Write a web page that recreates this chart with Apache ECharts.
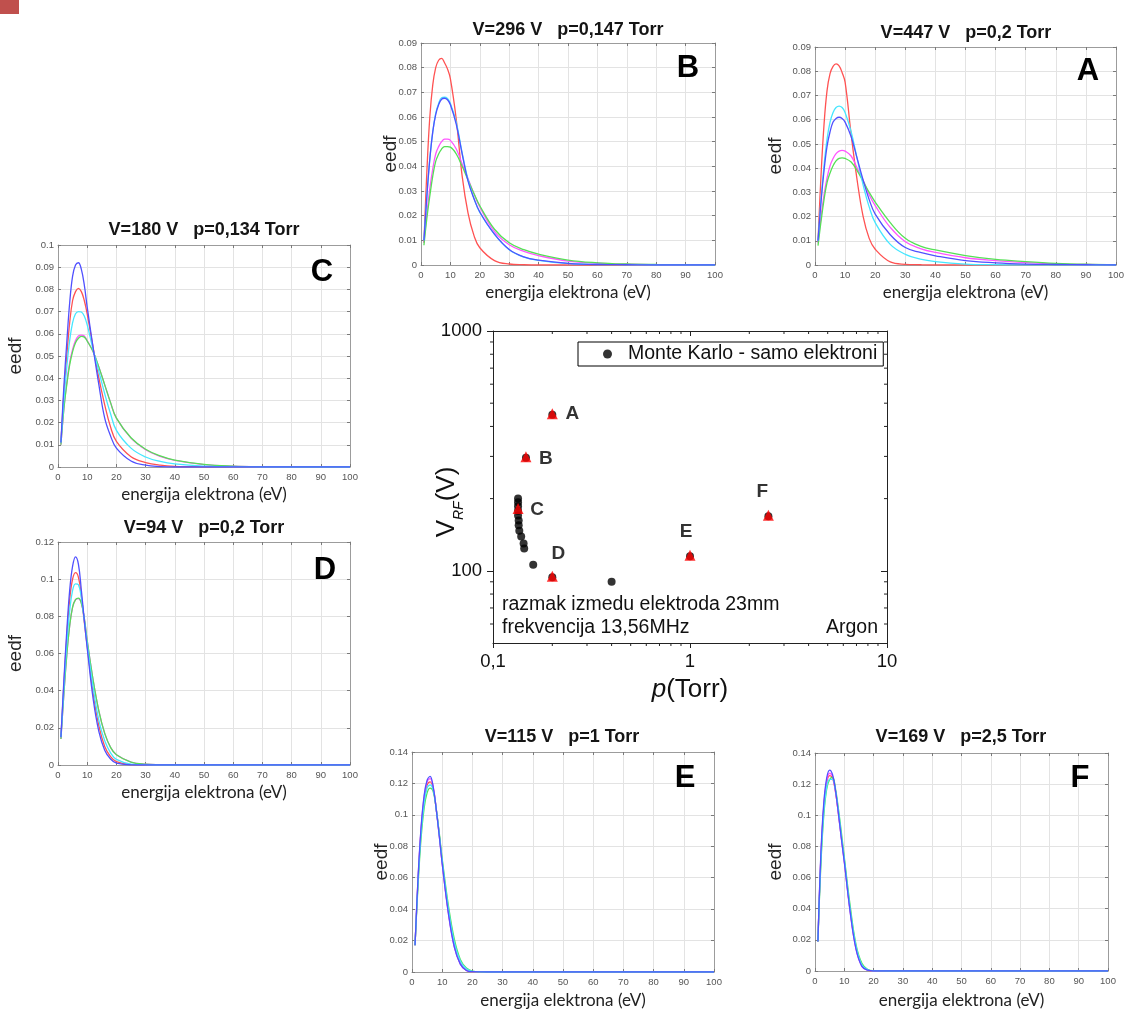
<!DOCTYPE html>
<html><head><meta charset="utf-8">
<script src="https://cdn.jsdelivr.net/npm/echarts@6/dist/echarts.min.js"></script>
<style>html,body{margin:0;padding:0;background:#fff}#c{width:1135px;height:1010px}</style>
</head><body><div id="c"></div>
<script>
// ---------- DATA ----------
const energy = [1,2,3,4,5,6,7,8,9,10,12,14,16,18,20,25,30,35,40,50,60,70,80,90,100];
const eTicks = [0,10,20,30,40,50,60,70,80,90,100];

// Panel B  V=296 V p=0,147 Torr
const B_red     = [0.009,0.038,0.060,0.073,0.080,0.083,0.0838,0.082,0.0795,0.0755,0.059,0.036,0.021,0.012,0.007,0.0018,0.0004,0.0001,0,0,0,0,0,0,0];
const B_blue    = [0.010,0.028,0.043,0.054,0.061,0.065,0.0672,0.0676,0.067,0.065,0.057,0.045,0.034,0.027,0.0215,0.0125,0.0063,0.0033,0.002,0.0007,0.0002,0.0001,0,0,0];
const B_cyan    = [0.010,0.028,0.043,0.054,0.0615,0.0655,0.0678,0.068,0.0675,0.0655,0.0578,0.0455,0.0345,0.027,0.0213,0.0124,0.0062,0.0032,0.0019,0.0006,0.0002,0.0001,0,0,0];
const B_magenta = [0.009,0.021,0.031,0.039,0.045,0.048,0.050,0.051,0.051,0.0505,0.047,0.041,0.035,0.029,0.0235,0.0135,0.0082,0.0055,0.0038,0.0016,0.0007,0.0003,0.0001,0,0];
const B_green   = [0.008,0.019,0.028,0.036,0.042,0.045,0.047,0.048,0.048,0.0478,0.045,0.040,0.0345,0.029,0.024,0.0145,0.009,0.0062,0.0044,0.002,0.0009,0.0004,0.0002,0.0001,0];

// Panel A  V=447 V p=0,2 Torr
const A_red     = [0.010,0.037,0.058,0.072,0.079,0.082,0.083,0.0822,0.0795,0.0755,0.054,0.035,0.020,0.011,0.0065,0.0013,0.0003,0.0001,0,0,0,0,0,0,0];
const A_blue    = [0.010,0.026,0.039,0.049,0.055,0.059,0.0605,0.061,0.0605,0.059,0.053,0.044,0.035,0.027,0.021,0.0125,0.0072,0.0052,0.0038,0.0018,0.0009,0.0004,0.0002,0.0001,0];
const A_cyan    = [0.010,0.027,0.041,0.052,0.059,0.063,0.065,0.0656,0.065,0.063,0.055,0.044,0.033,0.024,0.0175,0.0085,0.0044,0.0024,0.0014,0.0004,0.0001,0,0,0,0];
const A_magenta = [0.009,0.020,0.029,0.036,0.041,0.044,0.046,0.047,0.0473,0.047,0.045,0.040,0.035,0.029,0.0245,0.0155,0.0096,0.0068,0.0052,0.003,0.0018,0.001,0.0005,0.0002,0.0001];
const A_green   = [0.008,0.018,0.027,0.034,0.038,0.041,0.043,0.044,0.0442,0.044,0.0425,0.039,0.0345,0.030,0.026,0.0175,0.011,0.0078,0.0062,0.0039,0.0023,0.0014,0.0007,0.0003,0.0001];

// Panel C  V=180 V p=0,134 Torr
const C_red     = [0.011,0.033,0.050,0.065,0.075,0.079,0.0805,0.079,0.075,0.069,0.054,0.040,0.028,0.018,0.0115,0.0046,0.002,0.0008,0.0003,0.0001,0,0,0,0,0];
const C_blue    = [0.011,0.036,0.056,0.074,0.086,0.091,0.092,0.089,0.082,0.072,0.054,0.037,0.022,0.014,0.0085,0.0027,0.0008,0.0002,0,0,0,0,0,0,0];
const C_cyan    = [0.011,0.030,0.045,0.057,0.065,0.069,0.070,0.0698,0.068,0.064,0.053,0.043,0.033,0.024,0.0165,0.0085,0.0045,0.0025,0.0014,0.0004,0.0001,0,0,0,0];
const C_magenta = [0.010,0.026,0.038,0.047,0.053,0.057,0.059,0.0594,0.059,0.057,0.052,0.045,0.037,0.029,0.022,0.013,0.0078,0.0048,0.003,0.0011,0.0004,0.0001,0,0,0];
const C_green   = [0.010,0.026,0.037,0.046,0.052,0.056,0.058,0.0588,0.0585,0.0567,0.052,0.045,0.037,0.029,0.022,0.0132,0.008,0.005,0.0031,0.0012,0.0004,0.0001,0,0,0];

// Panel D  V=94 V p=0,2 Torr
const D_red     = [0.015,0.043,0.069,0.089,0.100,0.1035,0.101,0.091,0.077,0.064,0.039,0.021,0.010,0.0045,0.0018,0.0002,0,0,0,0,0,0,0,0,0];
const D_blue    = [0.015,0.045,0.072,0.094,0.107,0.112,0.108,0.094,0.078,0.063,0.036,0.018,0.008,0.0032,0.001,0.0001,0,0,0,0,0,0,0,0,0];
const D_cyan    = [0.015,0.041,0.065,0.083,0.094,0.0975,0.097,0.090,0.078,0.065,0.042,0.024,0.013,0.0065,0.003,0.0005,0.0001,0,0,0,0,0,0,0,0];
const D_magenta = [0.014,0.038,0.059,0.075,0.085,0.089,0.0895,0.087,0.079,0.067,0.046,0.029,0.017,0.0095,0.0055,0.0016,0.0004,0.0001,0,0,0,0,0,0,0];
const D_green   = [0.014,0.038,0.059,0.075,0.085,0.089,0.0898,0.087,0.079,0.067,0.046,0.029,0.017,0.0095,0.0055,0.0016,0.0004,0.0001,0,0,0,0,0,0,0];

// Panel E  V=115 V p=1 Torr
const E_red     = [0.017,0.058,0.090,0.109,0.119,0.121,0.117,0.104,0.088,0.070,0.039,0.017,0.0055,0.0012,0.0002,0,0,0,0,0,0,0,0,0,0];
const E_blue    = [0.017,0.060,0.092,0.112,0.122,0.1245,0.118,0.104,0.087,0.069,0.038,0.016,0.005,0.001,0.0002,0,0,0,0,0,0,0,0,0,0];
const E_cyan    = [0.017,0.057,0.088,0.107,0.117,0.119,0.116,0.104,0.088,0.071,0.041,0.019,0.007,0.002,0.0004,0,0,0,0,0,0,0,0,0,0];
const E_magenta = [0.017,0.059,0.091,0.111,0.121,0.123,0.118,0.104,0.087,0.069,0.038,0.016,0.005,0.001,0.0002,0,0,0,0,0,0,0,0,0,0];
const E_green   = [0.017,0.055,0.085,0.104,0.114,0.117,0.115,0.104,0.089,0.072,0.043,0.021,0.008,0.0025,0.0006,0,0,0,0,0,0,0,0,0,0];

// Panel F  V=169 V p=2,5 Torr
const F_red     = [0.019,0.072,0.105,0.121,0.1255,0.124,0.115,0.101,0.086,0.071,0.039,0.015,0.0035,0.0006,0,0,0,0,0,0,0,0,0,0,0];
const F_blue    = [0.019,0.075,0.108,0.124,0.129,0.126,0.116,0.101,0.085,0.070,0.038,0.014,0.003,0.0005,0,0,0,0,0,0,0,0,0,0,0];
const F_cyan    = [0.019,0.070,0.102,0.118,0.123,0.123,0.116,0.103,0.087,0.072,0.040,0.016,0.004,0.0008,0.0001,0,0,0,0,0,0,0,0,0,0];
const F_magenta = [0.019,0.073,0.106,0.122,0.127,0.125,0.115,0.101,0.085,0.070,0.038,0.014,0.003,0.0005,0,0,0,0,0,0,0,0,0,0,0];
const F_green   = [0.019,0.068,0.100,0.117,0.123,0.1243,0.117,0.104,0.089,0.073,0.042,0.017,0.005,0.001,0.0002,0,0,0,0,0,0,0,0,0,0];

// Central chart: V_RF vs p
const mcName = 'Monte Karlo - samo elektroni';
const mcP = [0.134,0.134,0.134,0.134,0.134,0.135,0.135,0.136,0.139,0.143,0.144,0.16,0.4,0.147,0.2,0.2,1,2.5];
const mcV = [200,193,186,178,170,162,155,147,139,130,124,106,90,296,447,94,115,169];
const caseNames = ['A','B','C','D','E','F'];
const caseP = [0.2,0.147,0.134,0.2,1,2.5];
const caseV = [447,296,180,94,115,169];
const pMinorTicks = [0.2,0.3,0.4,0.5,0.6,0.7,0.8,0.9,2,3,4,5,6,7,8,9];
const vMinorTicks = [60,70,80,90,200,300,400,500,600,700,800,900];

const panels = [
  {key:'B', title:'V=296 V   p=0,147 Torr', ymax:0.09, yint:0.01, s:{red:B_red,blue:B_blue,cyan:B_cyan,magenta:B_magenta,green:B_green}},
  {key:'A', title:'V=447 V   p=0,2 Torr',   ymax:0.09, yint:0.01, s:{red:A_red,blue:A_blue,cyan:A_cyan,magenta:A_magenta,green:A_green}},
  {key:'C', title:'V=180 V   p=0,134 Torr', ymax:0.1,  yint:0.01, s:{red:C_red,blue:C_blue,cyan:C_cyan,magenta:C_magenta,green:C_green}},
  {key:'D', title:'V=94 V   p=0,2 Torr',    ymax:0.12, yint:0.02, s:{red:D_red,blue:D_blue,cyan:D_cyan,magenta:D_magenta,green:D_green}},
  {key:'E', title:'V=115 V   p=1 Torr',     ymax:0.14, yint:0.02, s:{red:E_red,blue:E_blue,cyan:E_cyan,magenta:E_magenta,green:E_green}},
  {key:'F', title:'V=169 V   p=2,5 Torr',   ymax:0.14, yint:0.02, s:{red:F_red,blue:F_blue,cyan:F_cyan,magenta:F_magenta,green:F_green}}
];

// ---------- LAYOUT / STYLE ----------
const layout = {
  B:{left:421, top:43,  width:294, height:222, tx:568, ty:30,  lx:688,  ly:68,  xg:19, yg:21},
  A:{left:815, top:47,  width:301, height:218, tx:966, ty:33,  lx:1088, ly:71,  xg:19, yg:30},
  C:{left:58,  top:245, width:292, height:222, tx:204, ty:230, lx:322,  ly:272, xg:19, yg:33},
  D:{left:58,  top:542, width:292, height:223, tx:204, ty:528, lx:325,  ly:570, xg:19, yg:33},
  E:{left:412, top:752, width:302, height:221, tx:562, ty:737, lx:685,  ly:778, xg:20, yg:21},
  F:{left:815, top:753, width:293, height:220, tx:961, ty:737, lx:1080, ly:778, xg:21, yg:30}
};
const FONT = 'Liberation Sans';
const colors = {red:'#ff5252', magenta:'#ff55ff', green:'#55e055', cyan:'#45e6ff', blue:'#5050ff'};
const drawOrder = ['red','magenta','green','cyan','blue'];

const grids=[], xAxes=[], yAxes=[], series=[], graphics=[];

graphics.push({type:'rect', z:100, shape:{x:0,y:0,width:19,height:14}, style:{fill:'#c0504d'}});

panels.forEach(p => {
  const L = layout[p.key];
  grids.push({left:L.left, top:L.top, width:L.width, height:L.height});
  const g = grids.length - 1;
  const xb = xAxes.length;
  const boxLine = {show:true, onZero:false, lineStyle:{color:'#9c9c9c', width:1}};
  const tick = {show:true, inside:true, length:3, lineStyle:{color:'#7a7a7a', width:1}};
  xAxes.push({type:'value', gridIndex:g, position:'bottom', min:eTicks[0], max:eTicks[eTicks.length-1], interval:eTicks[1]-eTicks[0],
    axisLine:boxLine, axisTick:tick,
    axisLabel:{show:true, fontSize:9.5, color:'#555', margin:5, fontFamily:FONT},
    splitLine:{show:true, lineStyle:{color:'#e3e3e3', width:1}},
    name:'energija elektrona (eV)', nameLocation:'middle', nameGap:L.xg, nameMoveOverlap:false,
    nameTextStyle:{fontFamily:'Lato', fontSize:17, color:'#222'}});
  xAxes.push({type:'value', gridIndex:g, position:'top', min:eTicks[0], max:eTicks[eTicks.length-1], interval:eTicks[1]-eTicks[0],
    axisLine:boxLine, axisTick:tick, axisLabel:{show:false}, splitLine:{show:false}});
  const yl = yAxes.length;
  yAxes.push({type:'value', gridIndex:g, position:'left', min:0, max:p.ymax, interval:p.yint,
    axisLine:boxLine, axisTick:tick,
    axisLabel:{show:true, fontSize:9.5, color:'#555', margin:4, fontFamily:FONT,
      formatter: v => String(Math.round(v*1000)/1000)},
    splitLine:{show:true, lineStyle:{color:'#e3e3e3', width:1}},
    name:'eedf', nameLocation:'middle', nameGap:L.yg, nameMoveOverlap:false,
    nameTextStyle:{fontFamily:FONT, fontSize:19, color:'#262626'}});
  yAxes.push({type:'value', gridIndex:g, position:'right', min:0, max:p.ymax, interval:p.yint,
    axisLine:boxLine, axisTick:tick, axisLabel:{show:false}, splitLine:{show:false}});
  drawOrder.forEach(c => {
    series.push({type:'line', xAxisIndex:xb, yAxisIndex:yl, name:p.key+'-'+c,
      data: energy.map((e,k) => [e, p.s[c][k]]),
      smooth:0.4, showSymbol:false, symbol:'none', silent:true,
      lineStyle:{color:colors[c], width:1.3}, itemStyle:{color:colors[c]}});
  });
  graphics.push({type:'text', z:100, x:L.tx, y:L.ty, style:{text:p.title, align:'center', verticalAlign:'middle',
    fontFamily:FONT, fontWeight:'bold', fontSize:18, fill:'#151515'}});
  graphics.push({type:'text', z:100, x:L.lx, y:L.ly, style:{text:p.key, align:'center', verticalAlign:'middle',
    fontFamily:FONT, fontWeight:'bold', fontSize:31, fill:'#000'}});
});

// central chart
grids.push({left:493, top:331, width:394, height:312});
const gc = grids.length - 1;
const cx = xAxes.length;
const darkLine = {show:true, onZero:false, lineStyle:{color:'#222', width:1}};
xAxes.push({type:'log', logBase:10, gridIndex:gc, position:'bottom', min:0.1, max:10,
  axisLine:darkLine, axisTick:{show:true, inside:false, length:5, lineStyle:{color:'#222'}},
  axisLabel:{fontSize:18.5, color:'#111', margin:9, fontFamily:FONT,
    formatter: v => String(+(+v).toPrecision(3)).replace('.', ',')},
  splitLine:{show:false},
  name:'{i|p}(Torr)', nameLocation:'middle', nameGap:34, nameMoveOverlap:false,
  nameTextStyle:{fontFamily:FONT, fontSize:26, color:'#111', rich:{i:{fontFamily:FONT, fontSize:26, fontStyle:'italic', color:'#111'}}}});
xAxes.push({type:'log', logBase:10, gridIndex:gc, position:'top', min:0.1, max:10,
  axisLine:darkLine, axisTick:{show:true, inside:true, length:5, lineStyle:{color:'#222'}},
  axisLabel:{show:false}, splitLine:{show:false}});
const cy = yAxes.length;
yAxes.push({type:'log', logBase:10, gridIndex:gc, position:'left', min:50, max:1000,
  axisLine:darkLine, axisTick:{show:true, inside:false, length:6, lineStyle:{color:'#222'}},
  axisLabel:{fontSize:18.5, color:'#111', margin:11, fontFamily:FONT, showMinLabel:false,
    formatter: v => String(Math.round(v))},
  splitLine:{show:false},
  name:'{v|V}{s|RF}{v|(V)}', nameLocation:'middle', nameGap:27, nameMoveOverlap:false,
  nameTextStyle:{fontFamily:FONT, fontSize:26, color:'#111', padding:[0,30,0,0],
    rich:{v:{fontFamily:FONT, fontSize:26, color:'#111', padding:[0,0,6,0]},
          s:{fontFamily:FONT, fontSize:14, fontStyle:'italic', color:'#111', verticalAlign:'bottom'}}}});
yAxes.push({type:'log', logBase:10, gridIndex:gc, position:'right', min:50, max:1000,
  axisLine:darkLine, axisTick:{show:true, inside:true, length:6, lineStyle:{color:'#222'}},
  axisLabel:{show:false}, splitLine:{show:false}});

series.push({type:'custom', name:'minorY', xAxisIndex:cx, yAxisIndex:cy, silent:true, clip:false,
  data: vMinorTicks.map(v => [1, v]),
  renderItem(params, api) {
    const cs = params.coordSys;
    const y = api.coord([api.value(0), api.value(1)])[1];
    return {type:'group', children:[
      {type:'line', shape:{x1:cs.x-3, y1:y, x2:cs.x, y2:y}, style:{stroke:'#222', lineWidth:1}},
      {type:'line', shape:{x1:cs.x+cs.width-3, y1:y, x2:cs.x+cs.width, y2:y}, style:{stroke:'#222', lineWidth:1}}
    ]};
  }});
series.push({type:'custom', name:'minorX', xAxisIndex:cx, yAxisIndex:cy, silent:true, clip:false,
  data: pMinorTicks.map(v => [v, 100]),
  renderItem(params, api) {
    const cs = params.coordSys;
    const x = api.coord([api.value(0), api.value(1)])[0];
    return {type:'group', children:[
      {type:'line', shape:{x1:x, y1:cs.y+cs.height, x2:x, y2:cs.y+cs.height+3}, style:{stroke:'#222', lineWidth:1}},
      {type:'line', shape:{x1:x, y1:cs.y, x2:x, y2:cs.y+3}, style:{stroke:'#222', lineWidth:1}}
    ]};
  }});
series.push({type:'scatter', name:mcName, xAxisIndex:cx, yAxisIndex:cy,
  data: mcP.map((p,i) => [p, mcV[i]]), symbol:'circle', symbolSize:8,
  itemStyle:{color:'#000'}, z:3});
const caseLabelOffset = [[20,0],[20,2],[19,1],[6,-22],[-4,-23],[-6,-23]];
series.push({type:'scatter', name:'cases', xAxisIndex:cx, yAxisIndex:cy,
  data: caseP.map((p,i) => ({value:[p, caseV[i]], name:caseNames[i],
    label:{show:true, position:'inside', offset:caseLabelOffset[i], formatter:caseNames[i],
      fontFamily:FONT, fontWeight:'bold', fontSize:19, color:'#000'}})),
  symbol:'triangle', symbolSize:11, symbolOffset:[0,-1], itemStyle:{color:'#ff0000'}, z:10});

graphics.push({type:'text', z:100, x:502, y:605, style:{text:'razmak izmedu elektroda 23mm', align:'left', verticalAlign:'middle', fontFamily:FONT, fontSize:19.5, fill:'#111'}});
graphics.push({type:'text', z:100, x:502, y:628, style:{text:'frekvencija 13,56MHz', align:'left', verticalAlign:'middle', fontFamily:FONT, fontSize:19.5, fill:'#111'}});
graphics.push({type:'text', z:100, x:878, y:628, style:{text:'Argon', align:'right', verticalAlign:'middle', fontFamily:FONT, fontSize:19.5, fill:'#111'}});

const chart = echarts.init(document.getElementById('c'));
chart.setOption({
  backgroundColor:'#fff',
  animation:false,
  grid:grids, xAxis:xAxes, yAxis:yAxes, series:series,
  legend:{data:[mcName], left:578, top:342, orient:'horizontal', icon:'circle', itemWidth:9, itemHeight:9,
    padding:[2,6,2,25], borderColor:'#000', borderWidth:1, borderRadius:0, selectedMode:false,
    textStyle:{fontFamily:FONT, fontSize:19.5, color:'#111', padding:[0,0,0,11]}},
  tooltip:{show:false},
  graphic:graphics
});
</script></body></html>
